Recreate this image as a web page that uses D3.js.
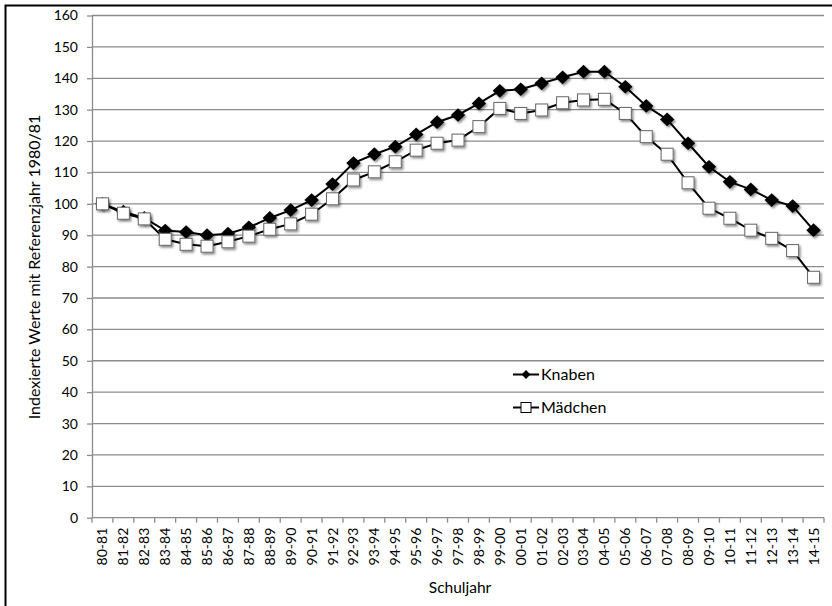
<!DOCTYPE html>
<html>
<head>
<meta charset="utf-8">
<script src="https://cdn.jsdelivr.net/npm/d3@7/dist/d3.min.js"></script>
<style>
  html, body { margin: 0; padding: 0; background: #fff; }
  svg { display: block; font-family: Lato, "Open Sans", sans-serif; }
</style>
</head>
<body>
<svg id="chart" width="832" height="606"></svg>
<script>
// School years (x categories)
const schoolYears = ["80-81","81-82","82-83","83-84","84-85","85-86","86-87","87-88","88-89","89-90",
  "90-91","91-92","92-93","93-94","94-95","95-96","96-97","97-98","98-99","99-00",
  "00-01","01-02","02-03","03-04","04-05","05-06","06-07","07-08","08-09","09-10",
  "10-11","11-12","12-13","13-14","14-15"];

// Indexed values, reference year 1980/81 = 100
const knaben = [100, 97.5, 95.5, 91.5, 91, 90, 90.5, 92.5, 95.5, 98,
  101.2, 106.3, 113, 115.8, 118.2, 122.1, 126, 128.3, 132, 136,
  136.5, 138.4, 140.3, 142.1, 142.1, 137.3, 131.2, 126.9, 119.3, 111.8,
  107, 104.6, 101.2, 99.3, 91.6];
const maedchen = [100, 97, 95.2, 88.7, 87.1, 86.5, 87.9, 89.7, 91.9, 93.6,
  96.7, 101.6, 107.6, 110.2, 113.4, 117.1, 119.3, 120.3, 124.6, 130.4,
  128.8, 129.9, 132.2, 133.1, 133.3, 128.8, 121.4, 115.8, 106.7, 98.6,
  95.4, 91.6, 89, 85.1, 76.6];

const yTicks = [0,10,20,30,40,50,60,70,80,90,100,110,120,130,140,150,160];

const svg = d3.select("#chart");

// outer frame
svg.append("path")
  .attr("d", "M5.5,606 L5.5,5.5 L832,5.5")
  .attr("fill", "none").attr("stroke", "#000").attr("stroke-width", 2);

const defs = svg.append("defs");
const shadow = defs.append("filter").attr("id", "shadow")
  .attr("x", "-50%").attr("y", "-50%").attr("width", "200%").attr("height", "200%");
shadow.append("feDropShadow").attr("dx", 1.5).attr("dy", 1.8)
  .attr("stdDeviation", 1).attr("flood-color", "#000").attr("flood-opacity", 0.45);

const plotLeft = 92, plotRight = 824, plotTop = 15.5, plotBottom = 517.7;

const x = d3.scaleBand().domain(schoolYears).range([plotLeft, plotRight]);
const y = d3.scaleLinear().domain([0, 160]).range([plotBottom, plotTop]);

// horizontal gridlines
svg.append("g").selectAll("line").data(yTicks.filter(d => d > 0)).join("line")
  .attr("x1", plotLeft).attr("x2", plotRight)
  .attr("y1", d => y(d)).attr("y2", d => y(d))
  .attr("stroke", "#8c8c8c").attr("stroke-width", 1.3);

// y axis
const yAxis = svg.append("g").attr("transform", `translate(${plotLeft},0)`)
  .call(d3.axisLeft(y).tickValues(yTicks).tickSize(5).tickPadding(9).tickSizeOuter(0));
yAxis.select(".domain").attr("stroke", "#8c8c8c").attr("stroke-width", 1.3);
yAxis.selectAll(".tick line").attr("stroke", "#8c8c8c").attr("stroke-width", 1.3);
yAxis.selectAll(".tick text").attr("font-size", 14).attr("fill", "#000")
  .style("font-family", "Lato, 'Open Sans', sans-serif");

// x axis with ticks on band boundaries
const xAxisG = svg.append("g").attr("transform", `translate(0,${plotBottom})`);
xAxisG.append("line").attr("x1", plotLeft).attr("x2", plotRight)
  .attr("stroke", "#8c8c8c").attr("stroke-width", 1.3);
const bounds = schoolYears.map(d => x(d)).concat([plotRight]);
xAxisG.selectAll("line.tk").data(bounds).join("line").attr("class", "tk")
  .attr("x1", d => d).attr("x2", d => d).attr("y1", 0).attr("y2", 5)
  .attr("stroke", "#8c8c8c").attr("stroke-width", 1.3);
xAxisG.selectAll("text").data(schoolYears).join("text")
  .attr("transform", d => `translate(${x(d) + x.bandwidth() / 2 + 5},10) rotate(-90)`)
  .attr("text-anchor", "end")
  .attr("font-size", 14)
  .text(d => d);

// axis titles
svg.append("text")
  .attr("transform", `translate(40,267) rotate(-90)`)
  .attr("text-anchor", "middle").attr("font-size", 16)
  .text("Indexierte Werte mit Referenzjahr 1980/81");
svg.append("text")
  .attr("x", 460).attr("y", 593)
  .attr("text-anchor", "middle").attr("font-size", 15.5)
  .text("Schuljahr");

const cx = d => x(d) + x.bandwidth() / 2;
const line = d3.line().x((d, i) => cx(schoolYears[i])).y(d => y(d));

// Knaben series
svg.append("path").datum(knaben).attr("d", line)
  .attr("fill", "none").attr("stroke", "#000").attr("stroke-width", 2);
svg.append("g").attr("filter", "url(#shadow)").selectAll("path").data(knaben).join("path")
  .attr("d", d3.symbol(d3.symbolDiamond2, 120))
  .attr("transform", (d, i) => `translate(${cx(schoolYears[i])},${y(d)}) scale(1.05,1)`)
  .attr("fill", "#000");

// Mädchen series
svg.append("path").datum(maedchen).attr("d", line)
  .attr("fill", "none").attr("stroke", "#000").attr("stroke-width", 2);
svg.append("g").attr("filter", "url(#shadow)").selectAll("rect").data(maedchen).join("rect")
  .attr("x", (d, i) => cx(schoolYears[i]) - 6).attr("y", d => y(d) - 6)
  .attr("width", 12).attr("height", 12)
  .attr("fill", "#fff").attr("stroke", "#666").attr("stroke-width", 1);

// legend
const legend = svg.append("g");
const items = [{name: "Knaben", type: "diamond", yy: 374.5}, {name: "Mädchen", type: "square", yy: 407.5}];
items.forEach(it => {
  legend.append("line").attr("x1", 513).attr("x2", 539).attr("y1", it.yy).attr("y2", it.yy)
    .attr("stroke", "#000").attr("stroke-width", 2);
  if (it.type === "diamond") {
    legend.append("path").attr("d", d3.symbol(d3.symbolDiamond2, 50))
      .attr("transform", `translate(526,${it.yy})`).attr("fill", "#000");
  } else {
    legend.append("rect").attr("x", 521).attr("y", it.yy - 5).attr("width", 10).attr("height", 10)
      .attr("fill", "#fff").attr("stroke", "#000").attr("stroke-width", 1);
  }
  legend.append("text").attr("x", 541).attr("y", it.yy + 5.5).attr("font-size", 16).text(it.name);
});
</script>
</body>
</html>
